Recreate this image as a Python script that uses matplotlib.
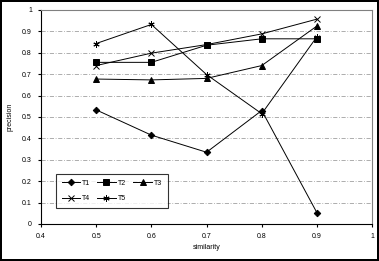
import matplotlib
matplotlib.use("Agg")
import matplotlib.pyplot as plt

plt.rcParams["font.family"] = ["Liberation Sans", "DejaVu Sans"]

similarity = [0.5, 0.6, 0.7, 0.8, 0.9]
t1 = [0.533, 0.415, 0.335, 0.530, 0.052]
t2 = [0.755, 0.755, 0.835, 0.865, 0.865]
t3 = [0.677, 0.673, 0.680, 0.740, 0.925]
t4 = [0.740, 0.798, 0.838, 0.888, 0.957]
t5 = [0.843, 0.932, 0.698, 0.515, 0.875]
names = ["T1", "T2", "T3", "T4", "T5"]
markers = ["D", "s", "^", "x", (6, 2, 0)]
sizes = [3.3, 3.8, 3.8, 4, 4.5]

fig = plt.figure(figsize=(3.79, 2.61), dpi=100)
fig.patch.set_edgecolor("black")
fig.patch.set_linewidth(1.5)
ax = fig.add_axes([0.108, 0.142, 0.874, 0.820])

lines = []
for name, vals, m, ms in zip(names, [t1, t2, t3, t4, t5], markers, sizes):
    ln, = ax.plot(similarity, vals, color="black", lw=0.7, marker=m, ms=ms,
                  mew=0.7, label=name)
    lines.append(ln)

ax.set_xlim(0.4, 1.0)
ax.set_ylim(0, 1.0)
ax.set_xticks([0.4, 0.5, 0.6, 0.7, 0.8, 0.9, 1.0])
ax.set_xticklabels(["0.4", "0.5", "0.6", "0.7", "0.8", "0.9", "1"])
ax.set_yticks([i / 10 for i in range(11)])
ax.set_yticklabels(["0"] + [f"0.{i}" for i in range(1, 10)] + ["1"])
ax.tick_params(labelsize=5, length=2.5, width=0.8, pad=4)
ax.grid(axis="y", color="#a0a0a0", ls=(0, (5, 2, 1, 2)), lw=0.6)
for s in ("left", "bottom"):
    ax.spines[s].set_color("black")
    ax.spines[s].set_linewidth(0.8)
for s in ("top", "right"):
    ax.spines[s].set_color("#808080")
    ax.spines[s].set_linewidth(0.8)

ax.set_xlabel("similarity", fontsize=5, labelpad=3)
ax.set_ylabel("precision", fontsize=5, labelpad=6)

# row-wise order: T1 T2 T3 / T4 T5
order = [0, 3, 1, 4, 2]
leg = ax.legend([lines[i] for i in order], [names[i] for i in order],
                ncol=3, fontsize=5, loc="lower left",
                bbox_to_anchor=(0.035, 0.06), frameon=True, fancybox=False,
                edgecolor="black", handlelength=2.6, handletextpad=0.4,
                columnspacing=1.0, borderpad=0.8, labelspacing=1.2)
leg.get_frame().set_linewidth(0.8)

fig.savefig("out.png", dpi=100)
